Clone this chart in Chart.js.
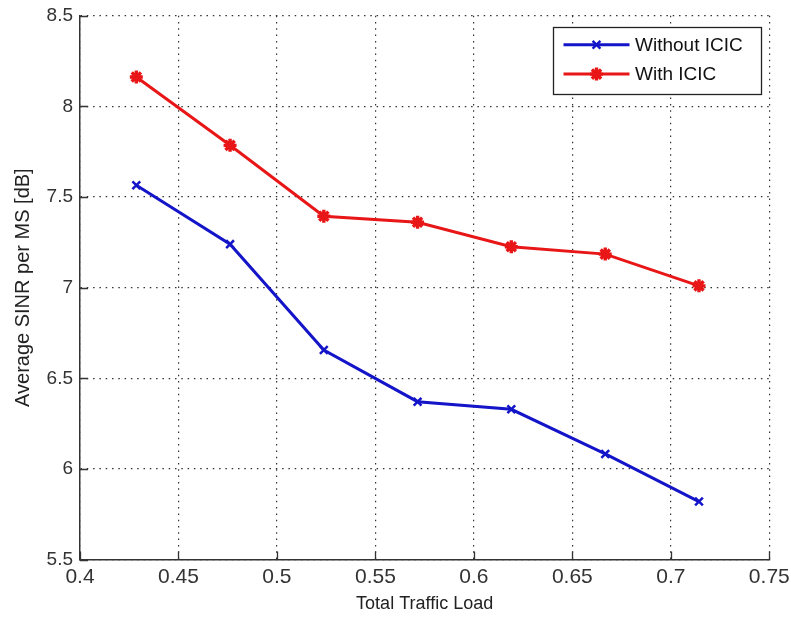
<!DOCTYPE html>
<html><head><meta charset="utf-8">
<script src="https://cdn.jsdelivr.net/npm/chart.js@4/dist/chart.umd.min.js"></script>
<style>html,body{margin:0;padding:0;background:#fff;}#wrap{width:791px;height:618px;}</style>
</head><body><div id="wrap"><canvas id="c" width="791" height="618"></canvas></div>
<script>
const trafficLoad = [0.4286, 0.4762, 0.5238, 0.5714, 0.6190, 0.6667, 0.7143];
const sinrWithoutICIC = [7.565, 7.24, 6.656, 6.371, 6.329, 6.083, 5.82];
const sinrWithICIC = [8.162, 7.785, 7.394, 7.361, 7.226, 7.185, 7.01];
const seriesLabels = ['Without ICIC', 'With ICIC'];
const xTickLabels = ['0.4','0.45','0.5','0.55','0.6','0.65','0.7','0.75'];
const yTickLabels = ['5.5','6','6.5','7','7.5','8','8.5'];
const xTitle = 'Total Traffic Load';
const yTitle = 'Average SINR per MS [dB]';

const FONT = '"Liberation Sans", Arial, sans-serif';
const BLUE = 'rgb(20,20,200)';
const RED = 'rgb(232,22,22)';

function drawMarker(ctx, style, x, y, r, color, w) {
  ctx.save();
  ctx.strokeStyle = color; ctx.lineWidth = w; ctx.lineCap = 'butt';
  ctx.beginPath();
  if (style === 'crossRot' || style === 'star') {
    const d = r * Math.SQRT1_2;
    ctx.moveTo(x - d, y - d); ctx.lineTo(x + d, y + d);
    ctx.moveTo(x - d, y + d); ctx.lineTo(x + d, y - d);
  }
  if (style === 'star') {
    ctx.moveTo(x - r, y); ctx.lineTo(x + r, y);
    ctx.moveTo(x, y - r); ctx.lineTo(x, y + r);
  }
  ctx.stroke();
  ctx.restore();
}

const innerTicks = {
  id: 'innerTicks',
  beforeDatasetsDraw(chart) {
    const {ctx, chartArea: a, scales: {x, y}} = chart;
    ctx.save();
    ctx.strokeStyle = '#333'; ctx.lineWidth = 1.3;
    ctx.beginPath();
    x.ticks.forEach(t => { const p = Math.round(x.getPixelForValue(t.value)) + 0.5; ctx.moveTo(p, a.bottom); ctx.lineTo(p, a.bottom - 8); });
    y.ticks.forEach(t => { const p = Math.round(y.getPixelForValue(t.value)) + 0.5; ctx.moveTo(a.left, p); ctx.lineTo(a.left + 8, p); });
    ctx.stroke();
    ctx.restore();
  }
};

const boxLegend = {
  id: 'boxLegend',
  afterDraw(chart) {
    const {ctx, chartArea: a} = chart;
    const w = 208, h = 67;
    const bx = Math.round(a.right - 8.5 - w) + 0.5, by = Math.round(a.top + 11) + 0.5;
    ctx.save();
    ctx.fillStyle = '#fff'; ctx.fillRect(bx, by, w, h);
    ctx.strokeStyle = '#222'; ctx.lineWidth = 1.3; ctx.strokeRect(bx, by, w, h);
    ctx.font = '19px ' + FONT; ctx.textBaseline = 'middle'; ctx.textAlign = 'left';
    chart.data.datasets.forEach((ds, i) => {
      const ry = by + 17.3 + i * 29.3;
      ctx.strokeStyle = ds.borderColor; ctx.lineWidth = ds.borderWidth;
      ctx.beginPath(); ctx.moveTo(bx + 10, ry); ctx.lineTo(bx + 76, ry); ctx.stroke();
      drawMarker(ctx, ds.pointStyle, bx + 43, ry, ds.pointRadius, ds.borderColor, ds.pointBorderWidth);
      ctx.fillStyle = '#111';
      ctx.fillText(ds.label, bx + 81.5, ry + 1);
    });
    ctx.restore();
  }
};

new Chart(document.getElementById('c'), {
  type: 'line',
  data: {
    datasets: [
      { label: seriesLabels[0], data: trafficLoad.map((v, i) => ({x: v, y: sinrWithoutICIC[i]})),
        borderColor: BLUE, backgroundColor: BLUE, borderWidth: 3, tension: 0,
        pointStyle: 'crossRot', pointRadius: 5.5, pointBorderWidth: 2.5, pointBorderColor: BLUE, pointBackgroundColor: BLUE },
      { label: seriesLabels[1], data: trafficLoad.map((v, i) => ({x: v, y: sinrWithICIC[i]})),
        borderColor: RED, backgroundColor: RED, borderWidth: 3, tension: 0,
        pointStyle: 'star', pointRadius: 6.5, pointBorderWidth: 3.4, pointBorderColor: RED, pointBackgroundColor: RED }
    ]
  },
  options: {
    responsive: false, animation: false, devicePixelRatio: 1,
    layout: { padding: { left: 0, top: 15.7, right: 21.7, bottom: 0 } },
    plugins: { legend: { display: false }, tooltip: { enabled: false } },
    scales: {
      x: {
        type: 'linear', min: 0.4, max: 0.75,
        afterFit(s) { s.height = 58.4; s.paddingLeft = 0; s.paddingRight = 0; },
        afterBuildTicks(s) { s.ticks = xTickLabels.map(l => ({value: parseFloat(l)})); },
        ticks: { callback: (v, i) => xTickLabels[i], font: { family: FONT, size: 21 }, color: '#333', padding: 5, maxRotation: 0, autoSkip: false },
        grid: { color: '#333', lineWidth: 1.2, drawTicks: false },
        border: { display: true, color: '#333', width: 1.5, dash: [1.5, 4.8] },
        title: { display: true, text: xTitle, font: { family: FONT, size: 18 }, color: '#222', padding: { top: 0, bottom: 3.5 } }
      },
      y: {
        type: 'linear', min: 5.5, max: 8.5,
        afterFit(s) { s.width = 80; s.paddingTop = 0; s.paddingBottom = 0; },
        afterBuildTicks(s) { s.ticks = yTickLabels.map(l => ({value: parseFloat(l)})); },
        ticks: { callback: (v, i) => yTickLabels[i], font: { family: FONT, size: 19 }, color: '#333', padding: 7 },
        grid: { color: '#333', lineWidth: 1.2, drawTicks: false },
        border: { display: true, color: '#333', width: 1.5, dash: [1.5, 4.8] },
        title: { display: true, text: yTitle, font: { family: FONT, size: 20 }, color: '#222', padding: { top: 11, bottom: 0 } }
      }
    }
  },
  plugins: [innerTicks, boxLegend]
});
</script></body></html>
